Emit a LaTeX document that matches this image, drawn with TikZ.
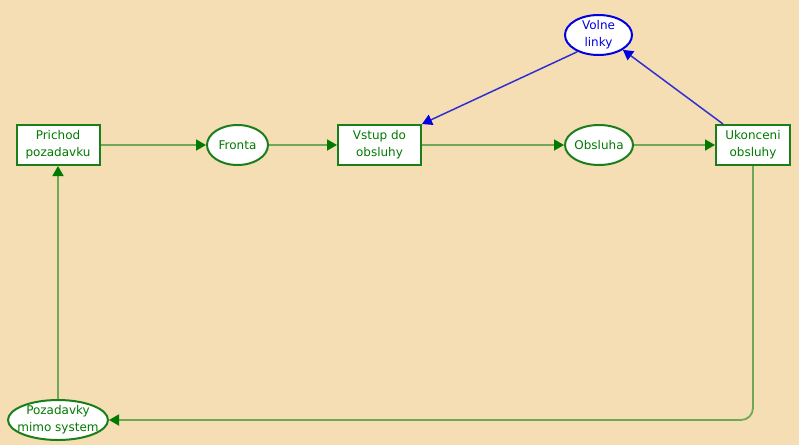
\documentclass[tikz,border=0pt]{standalone}
\usepackage{fontspec}
\setmainfont{DejaVu Sans}
\usetikzlibrary{arrows.meta,shapes.geometric}
\definecolor{bg}{HTML}{F5DEB3}
\definecolor{ngreen}{HTML}{1A7F1A}
\definecolor{egreen}{HTML}{6FA857}
\definecolor{tgreen}{HTML}{007A00}
\definecolor{nblue}{HTML}{0000E0}
\definecolor{eblue}{HTML}{3030D0}
\begin{document}
\begin{tikzpicture}[x=1pt,y=-1pt,
  every node/.style={font=\fontsize{12}{17}\selectfont, align=center, inner sep=0pt},
  gbox/.style={draw=ngreen, line width=2pt, fill=white, text=tgreen, minimum width=#1, minimum height=40pt},
  gell/.style={ellipse, draw=ngreen, line width=2pt, fill=white, minimum width=#1, minimum height=40pt},
  bell/.style={ellipse, draw=nblue, line width=2pt, fill=white, minimum width=#1, minimum height=40pt},
  gtxt/.style={text=tgreen, align=center},
  btxt/.style={text=nblue, align=center},
  gedge/.style={draw=egreen, line width=1.8pt, -{Triangle[length=10pt,width=11pt,color=tgreen]}},
  bedge/.style={draw=eblue, line width=1.5pt, -{Triangle[length=10pt,width=11pt,color=nblue]}}
]
\fill[bg] (0,0) rectangle (799,445);
\useasboundingbox (0,0) rectangle (799,445);

\node[gbox=83pt] (prichod) at (58,145) {Prichod\\pozadavku};
\node[gell=61pt, label={[gtxt]center:Fronta}] (fronta) at (237.5,145) {};
\node[gbox=83pt] (vstup) at (379.5,145) {Vstup do\\obsluhy};
\node[gell=68pt, label={[gtxt]center:Obsluha}] (obsluha) at (599,145) {};
\node[gbox=74pt] (ukonceni) at (753,145) {Ukonceni\\obsluhy};
\node[bell=67pt, label={[btxt]center:Volne\\linky}] (volne) at (598.5,35) {};
\node[gell=100pt, label={[gtxt]center:Pozadavky\\mimo system}] (mimo) at (58,420) {};

\coordinate (corner) at (753,420);

\draw[gedge] (prichod) -- (fronta);
\draw[gedge] (fronta) -- (vstup);
\draw[gedge] (vstup) -- (obsluha);
\draw[gedge] (obsluha) -- (ukonceni);
\draw[gedge, rounded corners=12pt] (ukonceni.south) -- (corner) -- (mimo.east);
\draw[gedge] (mimo.north) -- (prichod.south);
\draw[bedge] (volne.south west) ++(3,2) -- (vstup.north east);
\draw[bedge] (ukonceni.north west) ++(8,0) -- (volne.south east);
\end{tikzpicture}
\end{document}
